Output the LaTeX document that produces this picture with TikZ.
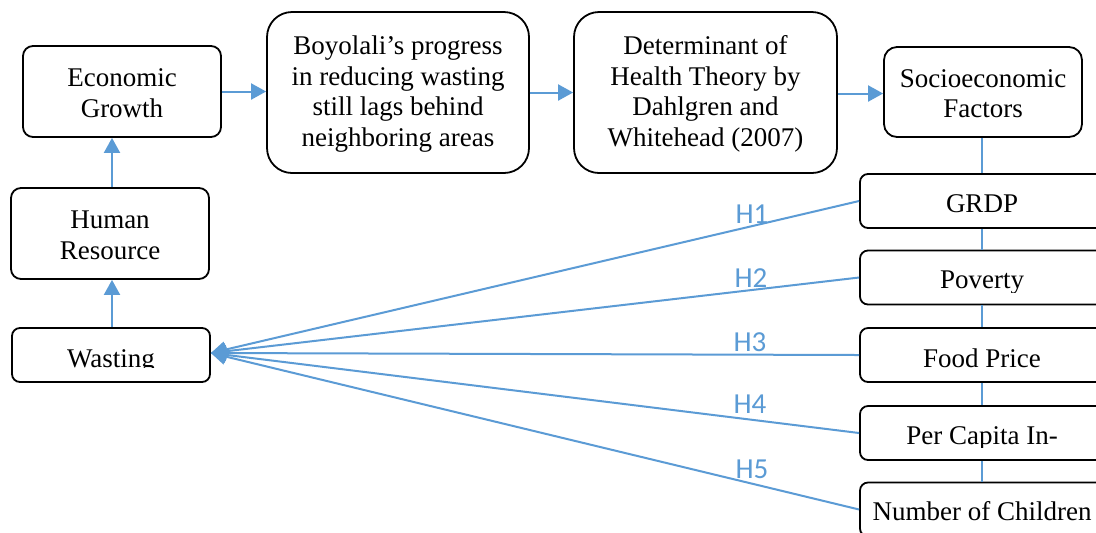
\documentclass[tikz,border=0pt]{standalone}
\usepackage{fontspec}
\setmainfont{Liberation Serif}
\newfontfamily\labfont{Carlito}
\usetikzlibrary{arrows.meta}
\definecolor{myblue}{HTML}{5B9BD5}
\tikzset{
  box/.style={draw=black, line width=0.9pt, fill=white, align=center, inner sep=0pt,
    font=\fontsize{13.5}{15.25}\selectfont},
  txt/.style={inner sep=0pt, anchor=base, font=\fontsize{13.5}{15.25}\selectfont},
  link/.style={draw=myblue, line width=1pt, -{Triangle[length=7.5pt,width=8pt]}},
  plain/.style={draw=myblue, line width=1pt},
  hlab/.style={text=myblue, inner sep=0pt, font=\labfont\fontsize{14.5}{16}\selectfont},
}
\begin{document}
\begin{tikzpicture}[x=0.5pt,y=-0.5pt]
\useasboundingbox (0,0) rectangle (1096,532);
\clip (0,0) rectangle (1096,532);
\fill[white] (0,0) rectangle (1096,532);
% top row
\node[box, rounded corners=5pt, minimum width=99pt, minimum height=45.5pt] (eco) at (122,91.5) {\strut Economic\\Growth};
\node[box, rounded corners=12.5pt, minimum width=131pt, minimum height=80.5pt] (boy) at (398,92.5) {\strut Boyolali’s progress\\in reducing wasting\\still lags behind\\neighboring areas};
\node[box, rounded corners=12.5pt, minimum width=131.5pt, minimum height=80.5pt] (det) at (705.5,92.5) {\strut Determinant of\\Health Theory by\\Dahlgren and\\Whitehead (2007)};
\node[box, rounded corners=6.5pt, minimum width=99pt, minimum height=45pt] (soc) at (983,92) {\strut Socioeconomic\\Factors};
% left column
\node[box, rounded corners=5pt, minimum width=99pt, minimum height=45.5pt] (hum) at (110,233.5) {\strut Human\\Resource};
\node[box, rounded corners=4pt, minimum width=99pt, minimum height=27pt] (was) at (111,355) {};
\begin{scope}
\clip ([xshift=1pt]was.north west) rectangle ([xshift=-1pt,yshift=7.5pt]was.south east);
\node[txt] (wast) at (111,367.5) {Wasting};
\end{scope}
% right column
\node[box, rounded corners=4pt, minimum width=122pt, minimum height=27pt] (grdp) at (982,201) {};
\node[txt] (grdpt) at (982,212.7) {GRDP};
\node[box, rounded corners=4pt, minimum width=122pt, minimum height=27pt] (pov) at (982,277.5) {};
\begin{scope}
\clip ([xshift=1pt]pov.north west) rectangle ([xshift=-1pt,yshift=6.5pt]pov.south east);
\node[txt] (povt) at (982,288) {Poverty};
\end{scope}
\node[box, rounded corners=4pt, minimum width=122pt, minimum height=27pt] (fd) at (982,355) {};
\node[txt] (fdt) at (982,367.7) {Food Price};
\node[box, rounded corners=4pt, minimum width=122pt, minimum height=27pt] (pc) at (982,433) {};
\begin{scope}
\clip ([xshift=1pt]pc.north west) rectangle ([xshift=-1pt,yshift=6.5pt]pc.south east);
\node[txt] (pct) at (982,444.3) {Per Capita In-};
\end{scope}
\node[box, rounded corners=4pt, minimum width=122pt, minimum height=27pt] (num) at (982,509.5) {};
\node[txt] (numt) at (982,520) {Number of Children};
% top arrows
\draw[link] (eco.east) -- (eco.east -| boy.west);
\draw[link] (boy.east) -- (boy.east -| det.west);
\draw[link] ([yshift=-0.5pt]det.east) -- ([yshift=-0.5pt]det.east -| soc.west);
\draw[link] ([xshift=1pt]hum.north) -- ([xshift=1pt]hum.north |- eco.south);
\draw[link] ([xshift=0.5pt]was.north) -- ([xshift=0.5pt]was.north |- hum.south);
% vertical connector
\draw[plain] (grdp.north |- soc.south) -- (grdp.north);
\draw[plain] (grdp.south) -- (pov.north);
\draw[plain] (pov.south) -- (fd.north);
\draw[plain] (fd.south) -- (pc.north);
\draw[plain] (pc.south) -- (num.north);
% hypotheses
\draw[link] (grdp.west) -- ([yshift=1pt]was.east);
\draw[link] (pov.west) -- ([yshift=1pt]was.east);
\draw[link] (fd.west) -- ([yshift=1pt]was.east);
\draw[link] (pc.west) -- ([yshift=1pt]was.east);
\draw[link] (num.west) -- ([yshift=1pt]was.east);
\node[hlab] (h1) at (752,214) {H1};
\node[hlab] (h2) at (751,278) {H2};
\node[hlab] (h3) at (750,342) {H3};
\node[hlab] (h4) at (750,404) {H4};
\node[hlab] (h5) at (752,469) {H5};
\end{tikzpicture}
\end{document}
